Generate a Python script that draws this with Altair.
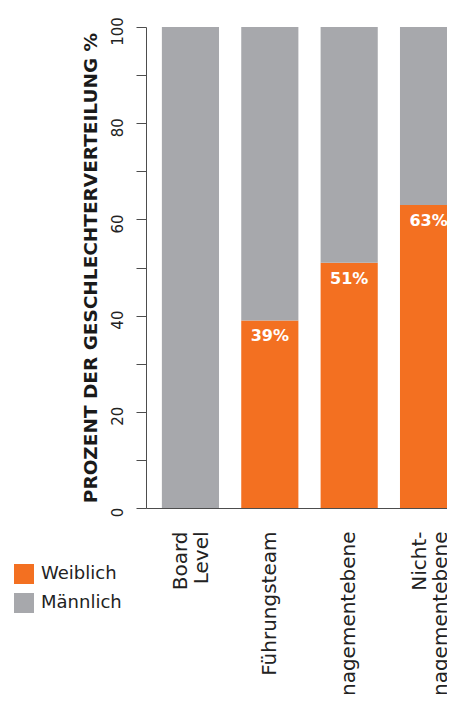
import altair as alt
import pandas as pd

categories = ["Board\nLevel", "Führungsteam", "Managementebene", "Nicht-\nManagementebene"]
weiblich = [0, 39, 51, 63]
maennlich = [100, 61, 49, 37]
genders = ["Weiblich", "Männlich"]
colors = ["#F37021", "#A7A8AC"]
y_ticks = [0, 10, 20, 30, 40, 50, 60, 70, 80, 90, 100]

rows = []
for c, w, m in zip(categories, weiblich, maennlich):
    rows.append({"cat": c, "gender": "Weiblich", "value": w, "ord": 0})
    rows.append({"cat": c, "gender": "Männlich", "value": m, "ord": 1})
df = pd.DataFrame(rows)

FONT = "DejaVu Sans"

x_enc = alt.X(
    "cat:N",
    sort=categories,
    title=None,
    scale=alt.Scale(range=[0, 327], paddingInner=0.28, paddingOuter=0.2),
    axis=alt.Axis(
        labelExpr="split(datum.label, '\\n')",
        labelAngle=270,
        labelAlign="right",
        labelBaseline="middle",
        labelPadding=23,
        labelLineHeight=21,
        labelOffset={"condition": {"test": "indexof(datum.value, '\\n') >= 0", "value": -9}, "value": 0},
        labelFont=FONT,
        labelFontSize=20,
        labelColor="#222222",
        labelLimit=1000,
        ticks=False,
        domain=True,
        domainColor="#4d4d4d",
        domainWidth=1,
        grid=False,
    ),
)

bars = alt.Chart(df).mark_bar().encode(
    x=x_enc,
    y=alt.Y(
        "value:Q",
        stack="zero",
        scale=alt.Scale(domain=[0, 100], nice=False),
        axis=alt.Axis(
            title="PROZENT DER GESCHLECHTERVERTEILUNG %",
            titleFont=FONT,
            titleFontWeight="bold",
            titleFontSize=18.5,
            titleColor="#1a1a1a",
            titleAngle=270,
            titleAlign="center",
            titleBaseline="alphabetic",
            titleX=-50,
            titleY=240.5,
            values=y_ticks,
            labelExpr="datum.value % 20 == 0 ? datum.label : ''",
            labelAngle=270,
            labelAlign="center",
            labelBaseline="alphabetic",
            labelPadding=14,
            labelOffset=4,
            labelFont=FONT,
            labelFontSize=15,
            labelColor="#222222",
            tickSize=10,
            tickColor="#4d4d4d",
            domainColor="#4d4d4d",
            grid=False,
        ),
    ),
    color=alt.Color(
        "gender:N",
        scale=alt.Scale(domain=genders, range=colors),
        legend=alt.Legend(
            title=None,
            orient="none",
            legendX=-132,
            legendY=537,
            symbolType="square",
            symbolSize=400,
            symbolStrokeWidth=0,
            symbolOpacity=1,
            labelFont=FONT,
            labelFontSize=18,
            labelColor="#222222",
            labelOffset=7,
            rowPadding=9,
            padding=0,
        ),
    ),
    order=alt.Order("ord:Q"),
)

labels = alt.Chart(df).transform_filter(
    "datum.gender == 'Weiblich' && datum.value > 0"
).transform_calculate(
    lbl="datum.value + '%'"
).mark_text(
    color="white", font=FONT, fontWeight="bold", fontSize=16, baseline="middle", dy=16
).encode(
    x=alt.X("cat:N", sort=categories),
    y=alt.Y("value:Q"),
    text="lbl:N",
)

chart = alt.layer(bars, labels).properties(
    width=301,
    height=481,
    autosize=alt.AutoSizeParams(type="none"),
    padding={"left": 138, "top": 19, "right": 0, "bottom": 186},
).configure_view(stroke=None)

chart.save("out.html", embed_options={"renderer": "svg", "actions": False})
